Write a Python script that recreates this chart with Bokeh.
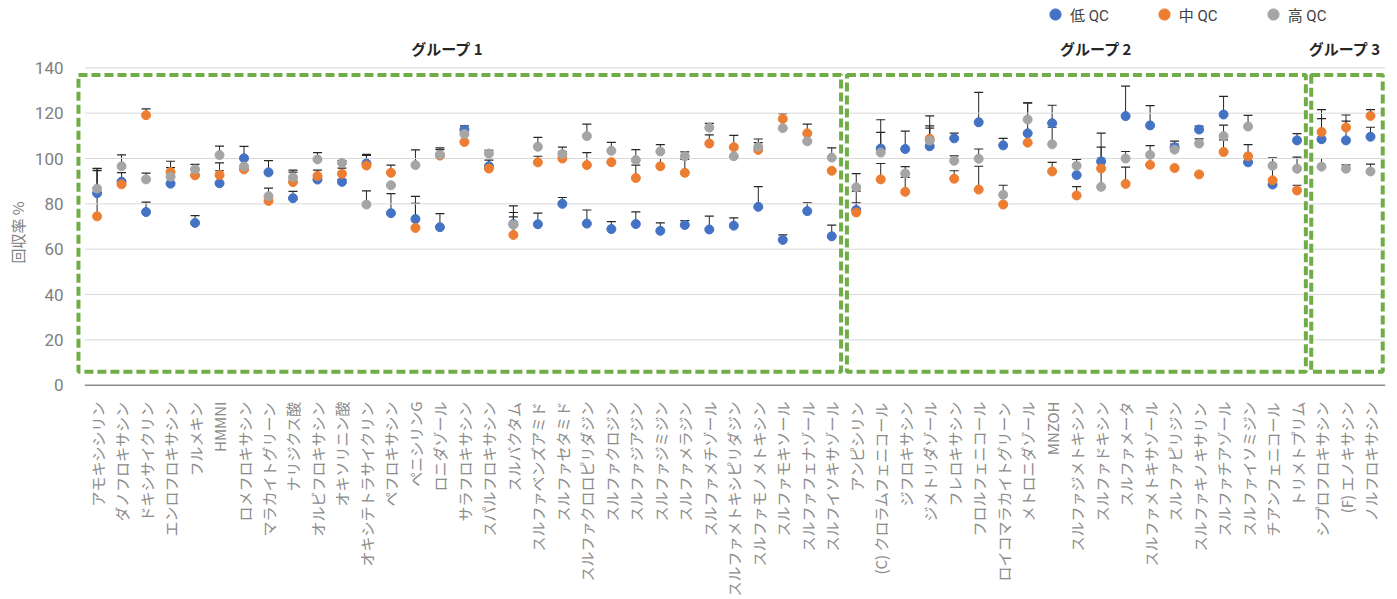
import numpy as np
from bokeh.plotting import figure
from bokeh.models import (ColumnDataSource, Range1d, FixedTicker, Whisker, TeeHead,
                          Label, Legend, LegendItem, Title)
from bokeh.embed import file_html
from bokeh.resources import INLINE

# ---------------- data ----------------
group1 = ["アモキシシリン", "ダノフロキサシン", "ドキシサイクリン", "エンロフロキサシン", "フルメキン",
          "HMMNI", "ロメフロキサシン", "マラカイトグリーン", "ナリジクス酸", "オルビフロキサシン",
          "オキソリニン酸", "オキシテトラサイクリン", "ペフロキサシン", "ペニシリンG", "ロニダゾール",
          "サラフロキサシン", "スパルフロキサシン", "スルバクタム", "スルファベンズアミド", "スルファセタミド",
          "スルファクロロピリダジン", "スルファクロジン", "スルファジアジン", "スルファジミジン", "スルファメラジン",
          "スルファメチゾール", "スルファメトキシピリダジン", "スルファモノメトキシン", "スルファモキソール",
          "スルファフェナゾール", "スルフイソキサゾール"]
group2 = ["アンピシリン", "(C) クロラムフェニコール", "ジフロキサシン", "ジメトリダゾール", "フレロキサシン",
          "フロルフェニコール", "ロイコマラカイトグリーン", "メトロニダゾール", "MNZOH", "スルファジメトキシン",
          "スルファドキシン", "スルファメータ", "スルファメトキサゾール", "スルファピリジン", "スルファキノキサリン",
          "スルファチアゾール", "スルファイソミジン", "チアンフェニコール", "トリメトプリム"]
group3 = ["シプロフロキサシン", "(F) エノキサシン", "ノルフロキサシン"]
group_titles = ["グループ 1", "グループ 2", "グループ 3"]
series_names = ["低 QC", "中 QC", "高 QC"]

low = [84.7, 89.8, 76.4, 88.9, 71.6, 89.1, 100.1, 93.9, 82.5, 90.7, 89.7, 97.8, 75.9, 73.3, 69.7,
       112.7, 96.6, 71.1, 71.0, 80.0, 71.3, 68.9, 71.1, 68.1, 70.7, 68.7, 70.4, 78.7, 64.1, 76.8, 65.7,
       77.3, 104.4, 104.2, 105.4, 108.9, 116.0, 105.8, 111.1, 115.6, 92.7, 98.7, 118.7, 114.6, 105.0,
       112.8, 119.4, 98.3, 88.5, 108.0,
       108.5, 108.0, 109.6]
low_err = [10, 4, 4.4, 0, 3.2, 5.5, 5.3, 5.2, 3, 0, 1.1, 4, 8.6, 10, 6,
           1.7, 2.7, 8, 4.9, 2.8, 6, 3.3, 5.4, 3.5, 1.9, 5.9, 3.4, 8.9, 2.2, 3.7, 4.9,
           8.3, 12.7, 7.9, 13.4, 2.3, 13.2, 3.1, 13.4, 7.9, 0, 12.5, 13.2, 8.7, 2.7,
           1.5, 8, 0, 0, 3,
           9.1, 8.5, 4.2]
mid = [74.5, 88.6, 119.1, 94.0, 92.6, 92.7, 95.2, 81.3, 89.6, 92.3, 93.3, 96.9, 93.7, 69.4, 101.3,
       107.3, 95.6, 66.3, 98.3, 100.0, 97.1, 98.4, 91.4, 96.6, 93.7, 106.6, 105.0, 103.8, 117.5, 111.1, 94.6,
       76.2, 90.8, 85.3, 108.7, 91.1, 86.3, 79.7, 107.0, 94.3, 83.7, 95.6, 88.8, 97.2, 95.8,
       93.0, 102.9, 101.0, 90.4, 85.9,
       111.7, 113.7, 118.8]
mid_err = [21, 0, 2.8, 4.8, 0, 5.4, 0, 0, 4.4, 2.6, 2.5, 4.5, 3.4, 10.8, 2.6,
           0, 0, 8, 2.7, 3, 5.5, 0, 5.7, 3.4, 5.9, 3.8, 5.2, 3.2, 2.3, 4.1, 0,
           4.2, 7, 6.4, 5.7, 3.5, 10.3, 0, 0, 4, 3.9, 9.4, 7.4, 0, 0,
           0, 5.3, 5.1, 6, 2.3,
           9.9, 5.5, 2.8]
high = [86.7, 96.6, 90.8, 92.0, 95.2, 101.5, 96.5, 83.4, 91.7, 99.6, 98.1, 79.7, 88.2, 97.1, 101.7,
        110.8, 102.2, 70.8, 105.2, 102.0, 109.9, 103.4, 99.3, 103.1, 101.0, 113.6, 101.0, 105.1, 113.4, 107.6, 100.4,
        87.3, 102.6, 93.4, 107.9, 99.0, 99.9, 84.0, 117.2, 106.3, 96.8, 87.5, 100.0, 101.6, 103.9,
        106.6, 109.9, 114.1, 96.8, 95.5,
        96.4, 95.5, 94.3]
high_err = [9, 5, 2.8, 4, 2.2, 4, 0, 3.5, 3.2, 3, 1, 6, 0, 6.7, 3,
            0, 1.4, 5.4, 4.1, 3, 5.3, 3.7, 4.6, 3, 1.9, 1.9, 0, 3.5, 0, 0, 4.3,
            6, 8.9, 3, 5.5, 2.2, 4.3, 4.2, 7.3, 7.5, 2.8, 12.6, 3.1, 4.1, 2.5,
            2.1, 4.8, 4.9, 3.5, 5.1,
            3.6, 1.7, 3.2]
y_ticks = [0, 20, 40, 60, 80, 100, 120, 140]

# ---------------- layout constants ----------------
names = group1 + group2 + group3
n = len(names)
xs = list(range(n))
colors = ["#4472C4", "#ED7D31", "#A5A5A5"]
FONT = "Roboto, 'Noto Sans CJK JP', sans-serif"
JFONT = "'Noto Sans CJK JP', Roboto, sans-serif"

p = figure(width=1397, height=599, output_backend="svg", toolbar_location=None,
           x_range=Range1d(-1.004, 52.98), y_range=Range1d(-1, 169.7),
           min_border_left=66, min_border_right=3, min_border_top=0, min_border_bottom=209)
p.title.visible = False
p.outline_line_color = None
p.xgrid.visible = False
p.ygrid.visible = False

# grid lines + baseline
gx0 = -0.5
gx1 = n - 0.4
p.segment(x0=gx0, x1=gx1, y0=y_ticks[1:], y1=y_ticks[1:], line_color="#d9d9d9", line_width=1)
p.segment(x0=gx0, x1=gx1, y0=y_ticks[0], y1=y_ticks[0], line_color="#8c8c8c", line_width=1.3)

# group boxes
sizes = [len(group1), len(group2), len(group3)]
starts = np.cumsum([0] + sizes[:-1])
box_left = [starts[0] - 0.76, starts[1] - 0.38, starts[2] - 0.42]
box_right = [starts[1] - 0.62, starts[2] - 0.64, n - 0.5]
p.quad(left=box_left, right=box_right, top=136.8, bottom=5.9, fill_alpha=0,
       line_color="#70AD47", line_width=4, line_dash="9 4")

# group titles
title_x = [14.3, 40.8, 50.95]
for tx, t in zip(title_x, group_titles):
    p.add_layout(Label(x=tx, y=148.6, text=t, text_align="center", text_baseline="middle",
                       text_font=JFONT, text_font_style="bold", text_font_size="15px",
                       text_color="#262626"))

# series
renderers = []
for vals, errs, col in zip([low, mid, high], [low_err, mid_err, high_err], colors):
    src = ColumnDataSource(dict(x=xs, v=vals, up=[a + b for a, b in zip(vals, errs)]))
    w = Whisker(base="x", lower="v", upper="up", source=src, dimension="height",
                line_color="#262626", line_width=1, lower_head=None,
                upper_head=TeeHead(size=9, line_color="#262626", line_width=1.2))
    p.add_layout(w)
for vals, col in zip([low, mid, high], colors):
    src = ColumnDataSource(dict(x=xs, v=vals))
    r = p.scatter("x", "v", source=src, size=9, fill_color=col, line_color=col)
    renderers.append(r)

legend = Legend(items=[LegendItem(label=s, renderers=[r]) for s, r in zip(series_names, renderers)],
                orientation="horizontal", location=(969, 359), glyph_width=28, glyph_height=28,
                label_standoff=1, spacing=41, padding=0, margin=0, border_line_color=None,
                background_fill_alpha=0, label_text_font_size="15px", label_text_color="#404040",
                label_height=28, label_text_font=FONT)
p.add_layout(legend, "center")

# axes
ya = p.yaxis[0]
ya.ticker = FixedTicker(ticks=y_ticks)
ya.axis_line_color = None
ya.major_tick_line_color = None
ya.minor_tick_line_color = None
ya.major_label_standoff = 3
ya.major_label_text_font = FONT
ya.major_label_text_font_size = "17px"
ya.major_label_text_color = "#808080"

p.add_layout(Title(text="回収率 %", align="left", offset=124, standoff=8,
                   text_font=JFONT, text_font_style="normal", text_font_size="15px",
                   text_color="#808080"), "left")

xa = p.xaxis[0]
xa.ticker = FixedTicker(ticks=xs)
xa.major_label_overrides = {i: nm for i, nm in enumerate(names)}
xa.major_label_orientation = np.pi / 2
xa.axis_line_color = None
xa.major_tick_line_color = None
xa.minor_tick_line_color = None
xa.major_label_standoff = 8
xa.major_label_text_font = JFONT
xa.major_label_text_font_size = "15px"
xa.major_label_text_color = "#8c8c8c"

open("out.html", "w").write(file_html(p, INLINE))
